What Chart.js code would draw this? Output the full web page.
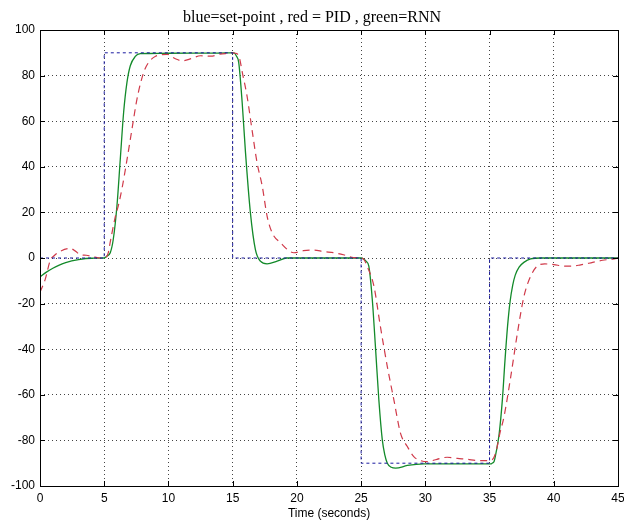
<!DOCTYPE html>
<html>
<head>
<meta charset="utf-8">
<title>blue=set-point , red = PID , green=RNN</title>
<script src="https://cdn.jsdelivr.net/npm/chart.js@4/dist/chart.umd.min.js"></script>
<style>
  html, body { margin: 0; padding: 0; background: #fff; }
  #wrap { width: 624px; height: 521px; }
</style>
</head>
<body>
<div id="wrap"><canvas id="responseChart" width="624" height="521"></canvas></div>
<script>
'use strict';

// Set-point (blue dashed)
var setTime  = [0, 5, 5, 15, 15, 25, 25, 35, 35, 45];
var setValue = [0, 0, 90, 90, 0, 0, -90, -90, 0, 0];

// RNN controller response (green)
var rnnTime  = [0, 0.5, 1, 1.5, 2, 3, 4, 5, 5.2, 5.47, 5.7, 5.99, 6.25, 6.51, 6.77, 7.03, 7.42, 7.81, 8.5, 10, 14, 15,
  15.1, 15.3, 15.47, 15.74, 16.0, 16.38, 16.77, 17.16, 17.68, 18.46, 19.2, 20, 25,
  25.2, 25.4, 25.6, 25.87, 26.13, 26.38, 26.65, 26.85, 27.04, 27.35, 27.69, 28.6, 29.9, 35.1,
  35.2, 35.35, 35.55, 35.75, 36.0, 36.2, 36.4, 36.6, 36.8, 37.0, 37.3, 37.7, 38.2, 39, 45];
var rnnValue = [-8.3, -6.2, -4.5, -3.1, -2.0, -0.7, -0.1, 0, 0.8, 2.3, 8, 22.8, 43.3, 63.8, 77, 84.3, 88.4, 89.6, 89.7, 89.8, 89.9, 90,
  90, 88.5, 85.8, 68.2, 46.2, 19.9, 3.7, -1.4, -2.6, -1.4, 0, 0, 0,
  -0.5, -1.5, -3.6, -18.2, -40.2, -62.2, -79.8, -86.5, -90, -91.8, -92.2, -91, -90.3, -90.3,
  -90, -89.3, -84, -77, -62, -45, -30, -19, -12, -7.5, -4, -1.8, -0.4, 0, 0];

// PID controller response (red dashed)
var pidTime  = [0, 0.4, 0.8, 1.1, 1.6, 2.35, 2.8, 3.1, 3.6, 4.2, 4.7, 5, 5.3, 5.5, 5.9, 6.1, 6.4, 6.77, 7.16, 7.55, 8.07, 8.46, 9.0,
  9.9, 10.5, 11.06, 11.8, 12.5, 13.3, 14.0, 14.7, 15.0, 15.2, 15.47, 15.8, 16.12, 16.5, 16.9, 17.3, 17.68, 18.07, 18.72,
  19.76, 20.5, 21.3, 22.1, 22.9, 23.7, 24.4, 25, 25.2, 25.5, 26.0, 26.5, 27.04, 27.55, 28.07, 28.6, 29.1, 29.6, 30.15,
  30.9, 31.7, 32.5, 33.27, 34.0, 34.8, 35.2, 35.5, 35.8, 36.13, 36.65, 37.17, 37.68, 38.2, 38.7, 39.3, 40.0, 40.7,
  41.3, 42.1, 42.9, 43.8, 44.7, 45];
var pidValue = [-15, -9.5, -1, 1, 3, 4.2, 2.8, 1.5, 1.2, 0.5, 0, 0, 2, 8, 19, 23, 31, 43, 56.5, 69.7, 81.4, 85.8, 88.5,
  89.3, 87.5, 86.5, 87.5, 88.7, 88.5, 89.4, 89.8, 90, 89.8, 88.7, 80, 71, 56.5, 41.8, 31.6, 18.4, 11.1, 6.7,
  2.3, 3.2, 3.5, 2.8, 2.3, 1.3, 0.2, 0, -0.5, -4, -12.4, -30, -47.6, -62.2, -76.9, -82.7, -87.1, -88.8, -89.3,
  -88.3, -87.4, -87.9, -88.3, -88.8, -88.9, -88.5, -85, -77, -69.5, -52, -32.9, -16.8, -8, -3.6, -2.6, -2.9, -3.5,
  -3.6, -3, -2.1, -1, -0.4, 0];

var titleText = 'blue=set-point , red = PID , green=RNN';
var xLabel = 'Time (seconds)';

/**
 * Zip time / value arrays into {x, y} points.
 */
function toPoints(times, values) {
  return times.map(function(t, i) {
    return { x: t, y: values[i] };
  });
}

/**
 * MATLAB style box, inward ticks and serif title.
 */
var matlabAxes = {
  id: 'matlabAxes',
  afterDraw: function(chart) {
    var ctx = chart.ctx;
    var area = chart.chartArea;
    var xs = chart.scales.x;
    var ys = chart.scales.y;
    var tick = 5;

    ctx.save();
    ctx.strokeStyle = '#000';
    ctx.lineWidth = 1;
    ctx.setLineDash([]);
    ctx.beginPath();
    xs.ticks.forEach(function(t) {
      var px = Math.round(xs.getPixelForValue(t.value)) + 0.5;
      ctx.moveTo(px, area.bottom);
      ctx.lineTo(px, area.bottom - tick);
      ctx.moveTo(px, area.top);
      ctx.lineTo(px, area.top + tick);
    });
    ys.ticks.forEach(function(t) {
      var py = Math.round(ys.getPixelForValue(t.value)) + 0.5;
      ctx.moveTo(area.left, py);
      ctx.lineTo(area.left + tick, py);
      ctx.moveTo(area.right, py);
      ctx.lineTo(area.right - tick, py);
    });
    ctx.stroke();
    ctx.strokeRect(Math.round(area.left) + 0.5, Math.round(area.top) + 0.5,
      Math.round(area.right - area.left), Math.round(area.bottom - area.top));

    // Title
    ctx.fillStyle = '#000';
    ctx.font = '16px "Liberation Serif", "DejaVu Serif", serif';
    ctx.textAlign = 'center';
    ctx.textBaseline = 'alphabetic';
    ctx.fillText(titleText, 312, 22);
    ctx.restore();
  }
};

var tickFont = { family: '"Liberation Sans", Arial, sans-serif', size: 12 };

var ctx = document.getElementById('responseChart').getContext('2d');
var chart = new Chart(ctx, {
  type: 'line',
  data: {
    datasets: [
      {
        label: 'set-point',
        data: toPoints(setTime, setValue),
        borderColor: '#1a1aa0',
        borderWidth: 1,
        borderDash: [3, 3],
        pointRadius: 0,
        tension: 0,
        fill: false
      },
      {
        label: 'PID',
        data: toPoints(pidTime, pidValue),
        borderColor: '#d03a4a',
        borderWidth: 1.2,
        borderDash: [7, 5],
        pointRadius: 0,
        cubicInterpolationMode: 'monotone',
        fill: false
      },
      {
        label: 'RNN',
        data: toPoints(rnnTime, rnnValue),
        borderColor: '#138a2a',
        borderWidth: 1.3,
        pointRadius: 0,
        cubicInterpolationMode: 'monotone',
        fill: false
      }
    ]
  },
  options: {
    responsive: false,
    animation: false,
    devicePixelRatio: 1,
    layout: { padding: { top: 30, right: 6, left: 0, bottom: 0 } },
    plugins: {
      legend: { display: false },
      tooltip: { enabled: false },
      title: { display: false }
    },
    scales: {
      x: {
        type: 'linear',
        min: 0,
        max: 45,
        ticks: { stepSize: 5, color: '#000', font: tickFont, padding: 5, maxRotation: 0 },
        grid: { color: '#444', drawTicks: false, lineWidth: 1 },
        border: { display: false, dash: [1, 3] },
        title: { display: true, text: xLabel, color: '#000', font: tickFont, padding: { top: 0, bottom: 0 } },
        afterFit: function(scale) {
          scale.height = 35;
          scale.paddingRight = 0;
          scale.paddingLeft = 0;
        }
      },
      y: {
        min: -100,
        max: 100,
        ticks: { stepSize: 20, color: '#000', font: tickFont, padding: 5 },
        grid: { color: '#444', drawTicks: false, lineWidth: 1 },
        border: { display: false, dash: [1, 3] },
        afterFit: function(scale) {
          scale.width = 40;
          scale.paddingTop = 0;
          scale.paddingBottom = 0;
        }
      }
    }
  },
  plugins: [matlabAxes]
});
</script>
</body>
</html>
